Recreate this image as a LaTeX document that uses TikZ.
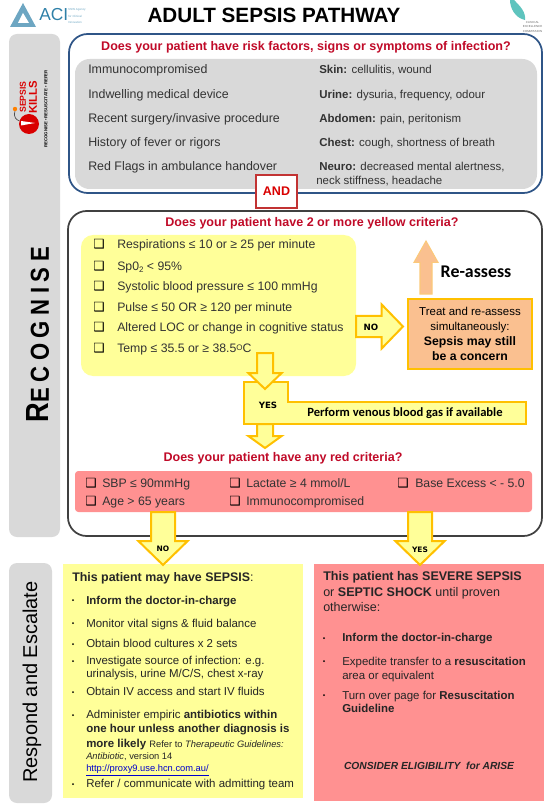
\documentclass[tikz,border=0pt]{standalone}
\usepackage{fontspec}
\setmainfont{Liberation Sans}
\newfontfamily\calibrifont{Carlito}
\newfontfamily\symfont{DejaVu Sans}
\usetikzlibrary{calc, positioning}

\definecolor{panelgrey}{HTML}{D9D9D9}
\definecolor{inkgrey}{HTML}{333333}
\definecolor{softyellow}{HTML}{FFFF99}
\definecolor{softred}{HTML}{FF9191}
\definecolor{softorange}{HTML}{FAC090}
\definecolor{goldline}{HTML}{FFC000}
\definecolor{navyline}{HTML}{2F5587}
\definecolor{asktext}{HTML}{C00A28}
\definecolor{aciteal}{HTML}{2E80A8}
\definecolor{ceteal}{HTML}{5FC4BE}

\newcommand{\unit}{0.75pt}

\begin{document}
\begin{tikzpicture}[
	x=0.75pt, y=-0.75pt,
	panel/.style={rectangle, anchor=north west, inner sep=0pt, outer sep=0pt},
	rowtext/.style={anchor=west, inner sep=0pt, text height=9pt, text depth=2pt, text=inkgrey, font=\fontsize{9.3}{11}\selectfont},
	sidetext/.style={rowtext, font=\fontsize{8.6}{11}\selectfont},
	criteria/.style={rowtext, font=\fontsize{9.2}{11}\selectfont},
	asktitle/.style={inner sep=0pt, text=asktext, font=\fontsize{9.4}{12}\selectfont\bfseries},
	checkmark/.style={inner sep=0pt, text=black, font=\fontsize{9.5}{10}\symfont},
	listtext/.style={anchor=west, inner sep=0pt, text height=9pt, text depth=2pt, text=black!85, font=\fontsize{8.6}{11}\selectfont},
	headtext/.style={listtext, font=\fontsize{9.4}{11}\selectfont},
	dotmark/.style={inner sep=0pt, circle, fill=black, minimum size=1.5pt},
	gatelabel/.style={inner sep=0pt, text=black, font=\fontsize{6.5}{8}\symfont\bfseries},
	blockarrow/.style n args={3}{draw=goldline, line width=1.5pt, fill=softyellow, line join=miter,
		to path={let \p1=($(\tikztotarget)!#3!(\tikztostart)$) in
			-- ($(\tikztostart)!#1!90:(\tikztotarget)$) -- ($(\p1)!#1!90:(\tikztotarget)$)
			-- ($(\p1)!#2!90:(\tikztotarget)$) -- (\tikztotarget)
			-- ($(\p1)!#2!-90:(\tikztotarget)$) -- ($(\p1)!#1!-90:(\tikztotarget)$)
			-- ($(\tikztostart)!#1!-90:(\tikztotarget)$) -- cycle}}
	]
	\useasboundingbox (0,0) rectangle (549,805);

	% header
	\node (title) [inner sep=0pt, font=\fontsize{15.5}{18}\selectfont\bfseries] at (274,15) {ADULT SEPSIS PATHWAY};
	\fill[aciteal!70] (23,3) -- (10,27) -- (36,27) -- cycle;
	\fill[white] (23,13) -- (18,23) -- (29,23) -- cycle;
	\node (acitext) [anchor=west, inner sep=0pt, text=aciteal, font=\fontsize{13}{15}\selectfont] at (39,15) {ACI};
	\node (aciname) [anchor=west, inner sep=0pt, align=left, text=aciteal!70, font=\fontsize{2.2}{4.6}\selectfont] at (68,16) {NSW Agency\\for Clinical\\Innovation};
	\fill[ceteal] (510,0) .. controls (510,8) and (515,18) .. (525,20) .. controls (526,12) and (520,6) .. (514,0) -- cycle;
	\node (cename) [anchor=north, inner sep=0pt, align=center, text=black!60, font=\fontsize{2.2}{3.3}\selectfont] at (532.5,21) {CLINICAL\\EXCELLENCE\\COMMISSION};

	% side panels
	\node (recognisepanel) [panel, fill=panelgrey, rounded corners=6pt, minimum width=51*\unit, minimum height=503*\unit] at (9,34) {};
	\node (respondpanel) [panel, fill=panelgrey, rounded corners=6pt, minimum width=43*\unit, minimum height=240*\unit] at (9,563) {};
	\node (recognise) [rotate=90, anchor=east, xscale=0.85, inner sep=0pt, font=\bfseries\addfontfeature{LetterSpace=25}\fontsize{19.5}{22}\selectfont] at (38,247) {{\fontsize{24}{26}\selectfont R}ECOGNISE};
	\node (respond) [rotate=90, inner sep=0pt, font=\fontsize{15}{17}\selectfont] at (32,682) {Respond and Escalate};

	% sepsis badge
	\node (sepsisword) [rotate=90, inner sep=0pt, text=red!85!black, font=\fontsize{6.5}{8}\selectfont\bfseries] at (23,97) {SEPSIS};
	\node (killsword) [rotate=90, inner sep=0pt, text=red!85!black, font=\fontsize{8.5}{10}\selectfont\bfseries] at (33,97) {KILLS};
	\node (bomb) [circle, fill=red!85!black, minimum size=20*\unit, inner sep=0pt] at (29,124) {};
	\fill[white] (21,121) -- (21,125.5) -- (35,123) -- cycle;
	\draw[black!70, line width=0.5pt] (bomb) .. controls (17,120) and (13,118) .. (15,111);
	\fill[orange] (15,109) circle (2.2);
	\node (badgeline) [rotate=90, inner sep=0pt, font=\fontsize{3.2}{4}\selectfont\bfseries] at (46,109) {RECOGNISE • RESUSCITATE • REFER};

	% risk factors
	\node (riskframe) [panel, draw=navyline, line width=1.3pt, fill=white, rounded corners=14pt, minimum width=473*\unit, minimum height=159*\unit] at (69,34) {};
	\node (riskgrey) [panel, fill=panelgrey, rounded corners=11pt, minimum width=462*\unit, minimum height=130*\unit] at (75,59) {};
	\node (riskask) [asktitle] at (306,47.5) {Does your patient have risk factors, signs or symptoms of infection?};
	\node (riskone) [rowtext] at (88,69) {Immunocompromised};
	\node (risktwo) [rowtext] at (88,94) {Indwelling medical device};
	\node (riskthree) [rowtext] at (88,118) {Recent surgery/invasive procedure};
	\node (riskfour) [rowtext] at (88,142) {History of fever or rigors};
	\node (riskfive) [rowtext] at (88,166) {Red Flags in ambulance handover};
	\node (skin) [sidetext] at (319,69) {\textbf{Skin:} cellulitis, wound};
	\node (urine) [sidetext] at (319,94) {\textbf{Urine:} dysuria, frequency, odour};
	\node (abdomen) [sidetext] at (319,118) {\textbf{Abdomen:} pain, peritonism};
	\node (chest) [sidetext] at (319,142) {\textbf{Chest:} cough, shortness of breath};
	\node (neuro) [sidetext] at (319,166) {\textbf{Neuro:} decreased mental alertness,};
	\node (neurotwo) [sidetext] at (316,180) {neck stiffness, headache};
	\node (andbox) [panel, draw=red!70!black!80, line width=0.9pt, fill=white, text=red!85!black, font=\fontsize{9.4}{12}\selectfont\bfseries, minimum width=41*\unit, minimum height=33*\unit] at (256,175) {AND};

	% yellow criteria
	\node (recogframe) [panel, draw=black!75, line width=1.3pt, rounded corners=14pt, minimum width=474*\unit, minimum height=325*\unit] at (68,211) {};
	\node (yellowask) [asktitle] at (312,223.5) {Does your patient have 2 or more yellow criteria?};
	\node (yellowbox) [panel, fill=softyellow, rounded corners=9pt, minimum width=275*\unit, minimum height=141*\unit] at (81,235) {};
	\node (chkresp) [checkmark] at (99,244) {❑};
	\node (chkspo) [checkmark] at (99,266) {❑};
	\node (chksbp) [checkmark] at (99,286) {❑};
	\node (chkpulse) [checkmark] at (99,307) {❑};
	\node (chkloc) [checkmark] at (99,327) {❑};
	\node (chktemp) [checkmark] at (99,348) {❑};
	\node (resp) [criteria] at (117,244) {Respirations ≤ 10 or ≥ 25 per minute};
	\node (spo) [criteria] at (117,266) {Sp0\raisebox{-1.5pt}{\fontsize{6}{7}\selectfont 2} < 95\%};
	\node (sbp) [criteria] at (117,286) {Systolic blood pressure ≤ 100 mmHg};
	\node (pulse) [criteria] at (117,307) {Pulse ≤ 50 OR ≥ 120 per minute};
	\node (loc) [criteria] at (117,327) {Altered LOC or change in cognitive status};
	\node (temp) [criteria] at (117,348) {Temp ≤ 35.5 or ≥ 38.5\raisebox{2pt}{\fontsize{6}{7}\selectfont O}C};

	% no branch
	\node (treatbox) [panel, draw=goldline, line width=0.9pt, fill=softorange, align=center, minimum width=124*\unit, minimum height=70*\unit, font=\fontsize{8.6}{11.2}\selectfont] at (408,299) {Treat and re-assess\\simultaneously:\\{\fontsize{9.2}{11.2}\selectfont\bfseries Sepsis may still}\\{\fontsize{9.2}{11.2}\selectfont\bfseries be a concern}};
	\coordinate (notip) at (403,326.5);
	\draw[blockarrow={8pt}{16.5pt}{16pt}] (yellowbox.east |- notip) to (notip);
	\node (nolabel) [gatelabel] at (371,327) {NO};
	\coordinate (reassesstip) at (426,241);
	\draw[blockarrow={4.5pt}{9pt}{16pt}, draw=softorange!85!yellow, line width=0.8pt, fill=softorange] (treatbox.north -| reassesstip) ++(0,-5) to (reassesstip);
	\node (reassess) [inner sep=0pt, font=\fontsize{13.4}{15}\calibrifont\bfseries] at (476,272) {Re-assess};

	% yes branch
	\draw[draw=goldline, line width=1.5pt, fill=softyellow] (244,382) -- (288,382) -- (288,402) -- (526,402) -- (526,424) -- (244,424) -- cycle;
	\coordinate (yestop) at (265,353);
	\coordinate (yestip) at (265,389);
	\coordinate (gastip) at (265,448);
	\coordinate (gasbase) at (265,424);
	\draw[blockarrow={6pt}{12.5pt}{12pt}] (yestop) to (yestip);
	\draw[blockarrow={6pt}{12.5pt}{9pt}] (gasbase) to (gastip);
	\node (yeslabel) [gatelabel] at (268,405) {YES};
	\node (gasline) [inner sep=0pt, font=\fontsize{9.45}{11}\calibrifont\bfseries] at (405,413) {Perform venous blood gas if available};

	% red criteria
	\node (redask) [asktitle] at (283,458.5) {Does your patient have any red criteria?};
	\node (redbox) [panel, fill=softred, rounded corners=2.5pt, minimum width=457*\unit, minimum height=41*\unit] at (75,471) {};
	\node (chksbpred) [checkmark] at (91,483) {❑};
	\node (chkage) [checkmark] at (91,501) {❑};
	\node (chklact) [checkmark] at (235,483) {❑};
	\node (chkimmuno) [checkmark] at (235,501) {❑};
	\node (chkbase) [checkmark] at (403,483) {❑};
	\node (sbpred) [criteria] at (102,483) {SBP ≤ 90mmHg};
	\node (age) [criteria] at (102,501) {Age > 65 years};
	\node (lactate) [criteria] at (246,483) {Lactate ≥ 4 mmol/L};
	\node (immuno) [criteria] at (246,501) {Immunocompromised};
	\node (baseexcess) [criteria] at (415,483) {Base Excess < - 5.0};

	% outcome panels
	\node (sepsispanel) [panel, fill=softyellow, minimum width=240*\unit, minimum height=234*\unit] at (63,564) {};
	\node (shockpanel) [panel, fill=softred, minimum width=230*\unit, minimum height=237*\unit] at (314,564) {};
	\coordinate (nodrop) at (163,565);
	\coordinate (yesdrop) at (420,565);
	\draw[blockarrow={9pt}{18.5pt}{18pt}] (redbox.south -| nodrop) to (nodrop);
	\draw[blockarrow={9pt}{18.5pt}{18pt}] (redbox.south -| yesdrop) to (yesdrop);
	\node (nodroplabel) [gatelabel, font=\fontsize{5.6}{7}\symfont\bfseries] at (163,549) {NO};
	\node (yesdroplabel) [gatelabel, font=\fontsize{5.6}{7}\symfont\bfseries] at (420,550) {YES};

	% sepsis actions
	\node (sepsishead) [headtext, font=\fontsize{9.3}{11}\selectfont] at (72,577) {\textbf{This patient may have SEPSIS}:};
	\node (doctorone) [listtext] at (86,600) {\textbf{Inform the doctor-in-charge}};
	\node (monitor) [listtext] at (86,623) {Monitor vital signs \& fluid balance};
	\node (cultures) [listtext] at (86,643) {Obtain blood cultures x 2 sets};
	\node (source) [listtext] at (86,660) {Investigate source of infection: e.g.};
	\node (sourcetwo) [listtext] at (86,673) {urinalysis, urine M/C/S, chest x-ray};
	\node (access) [listtext] at (86,691) {Obtain IV access and start IV fluids};
	\node (abxone) [listtext] at (86,714) {Administer empiric \textbf{antibiotics within}};
	\node (abxtwo) [listtext] at (86,728) {\textbf{one hour unless another diagnosis is}};
	\node (abxthree) [listtext] at (86,743) {\textbf{more likely} {\fontsize{7}{8}\selectfont Refer to \textit{Therapeutic Guidelines:}}};
	\node (abxfour) [listtext, font=\fontsize{7}{8}\selectfont] at (86,755) {\textit{Antibiotic}, version 14};
	\node (proxylink) [listtext, text=blue!80!black, font=\fontsize{7}{8}\selectfont] at (86,767) {\underline{http://proxy9.use.hcn.com.au/}};
	\node (refer) [listtext] at (86,783) {Refer / communicate with admitting team};
	\node (dotone) [dotmark] at (73,600) {};
	\node (dottwo) [dotmark] at (73,623) {};
	\node (dotthree) [dotmark] at (73,644) {};
	\node (dotfour) [dotmark] at (73,661) {};
	\node (dotfive) [dotmark] at (73,692) {};
	\node (dotsix) [dotmark] at (73,715) {};
	\node (dotseven) [dotmark] at (73,784) {};

	% shock actions
	\node (shockhead) [headtext] at (323,576) {\textbf{This patient has SEVERE SEPSIS}};
	\node (shockheadtwo) [headtext] at (323,592) {or \textbf{SEPTIC SHOCK} until proven};
	\node (shockheadthree) [headtext] at (323,607) {otherwise:};
	\node (doctortwo) [listtext] at (342,637) {\textbf{Inform the doctor-in-charge}};
	\node (expedite) [listtext] at (342,661) {Expedite transfer to a \textbf{resuscitation}};
	\node (expeditetwo) [listtext] at (342,675) {area or equivalent};
	\node (turn) [listtext] at (342,695) {Turn over page for \textbf{Resuscitation}};
	\node (turntwo) [listtext] at (342,708) {\textbf{Guideline}};
	\node (arise) [inner sep=0pt, text=black!85, font=\fontsize{7.7}{9}\selectfont\bfseries\itshape] at (429,766) {CONSIDER ELIGIBILITY\ \ for ARISE};
	\node (dotred) [dotmark] at (324,638) {};
	\node (dotredtwo) [dotmark] at (324,661) {};
	\node (dotredthree) [dotmark] at (324,695) {};
\end{tikzpicture}
\end{document}
